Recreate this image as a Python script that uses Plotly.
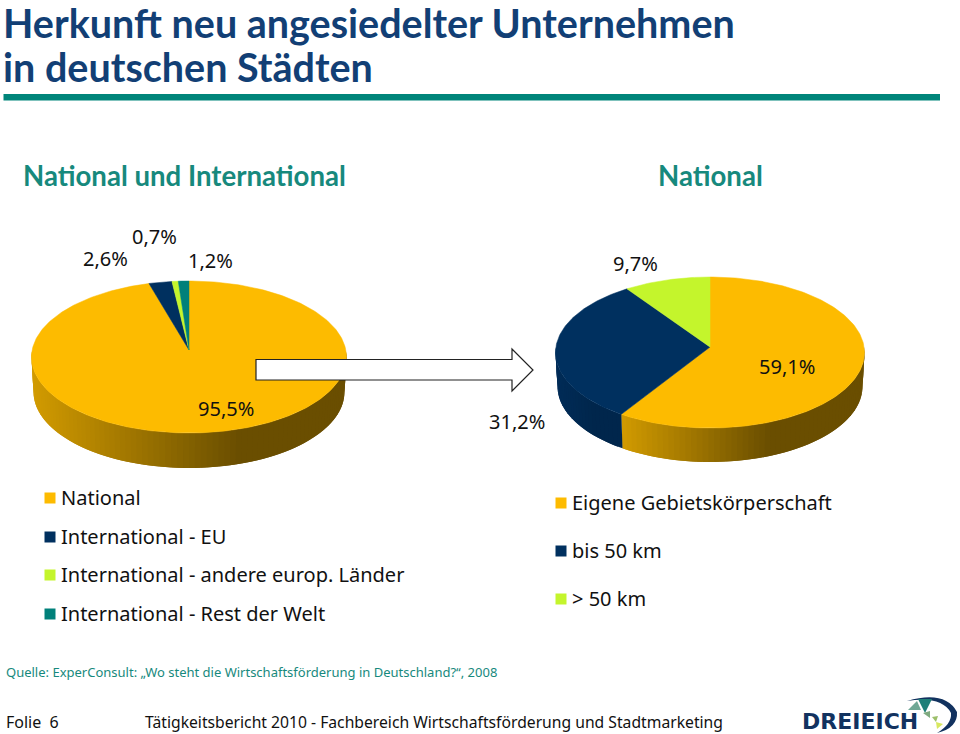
import math
import plotly.graph_objects as go

# ---- data ----
left_names = ["National", "International - EU", "International - andere europ. Länder", "International - Rest der Welt"]
left_values = [95.5, 2.6, 0.7, 1.2]
left_labels = ["95,5%", "2,6%", "0,7%", "1,2%"]
right_names = ["Eigene Gebietskörperschaft", "bis 50 km", "> 50 km"]
right_values = [59.1, 31.2, 9.7]
right_labels = ["59,1%", "31,2%", "9,7%"]

COL = {"gold": "#FDBB00", "navy": "#00305F", "lime": "#C4F52C", "teal": "#00807A"}
left_colors = [COL["gold"], COL["navy"], COL["lime"], COL["teal"]]
right_colors = [COL["gold"], COL["navy"], COL["lime"]]
FONT = "Noto Sans"
TEAL_TXT = "#17897D"
TITLE = "#123F75"

fig = go.Figure()


def poly(xs, ys, color, lw=0):
    fig.add_trace(go.Scatter(x=xs, y=ys, mode="lines", fill="toself", fillcolor=color,
                             line=dict(color=color, width=lw), hoverinfo="skip", showlegend=False))


def hexmix(c, f):
    r, g, b = int(c[1:3], 16), int(c[3:5], 16), int(c[5:7], 16)
    return "rgb(%d,%d,%d)" % (r * f, g * f, b * f)


def pie3d(values, colors, apex, cy, rx, ry, depth, brx, shade_span):
    ax, ay = apex
    def edge(theta):
        dx, dy = rx * math.sin(theta), -ry * math.cos(theta)
        k = ay - cy
        a = (dx / rx) ** 2 + (dy / ry) ** 2
        b = 2 * dy * k / ry ** 2
        c = (k / ry) ** 2 - 1
        s = (-b + math.sqrt(b * b - 4 * a * c)) / (2 * a)
        return ax + dx * s, ay + dy * s
    def low(theta):
        x, y = edge(theta)
        return ax + (x - ax) * brx / rx, y + depth

    total = sum(values)
    cum = 0.0
    spans = []
    for v in values:
        spans.append((cum / total * 2 * math.pi, (cum + v) / total * 2 * math.pi))
        cum += v
    # side wall (front half only); strips overlap the next one and run right to left
    for (a0, a1), col in zip(spans, colors):
        lo, hi = max(a0, math.pi / 2), min(a1, 3 * math.pi / 2)
        if hi <= lo:
            continue
        n = max(4, int((hi - lo) / math.radians(2)))
        xl, xr = low(hi)[0], low(lo)[0]
        for i in range(n):
            t0 = lo + (hi - lo) * i / n
            t1 = lo + (hi - lo) * (i + 1) / n
            tm = (t0 + t1) / 2
            frac = min(1.0, (low(tm)[0] - xl) / ((xr - xl) * shade_span))
            f = 0.83 - (0.83 - 0.42) * frac if col == COL["gold"] else 0.92 - 0.12 * frac
            arc = [t0 + (min(hi, t1 + (t1 - t0)) - t0) * j / 3 for j in range(4)]
            tops = [edge(t) for t in arc]
            bots = [low(t) for t in reversed(arc)]
            pts = tops + bots + tops[:1]
            poly([p[0] for p in pts], [p[1] for p in pts], hexmix(col, f))
    # top face
    for (a0, a1), col in zip(spans, colors):
        n = max(3, int((a1 - a0) / math.radians(1)))
        pts = [edge(a0 + (a1 - a0) * i / n) for i in range(n + 1)]
        poly([ax] + [p[0] for p in pts] + [ax], [ay] + [p[1] for p in pts] + [ay], col, 0.5)


pie3d(left_values, left_colors, (189, 350), 357, 157.5, 76, 35, 155.5, 0.66)
pie3d(right_values, right_colors, (710, 347), 352.5, 154.5, 75.5, 34, 152.5, 0.61)

ann = []


def txt(x, y, s, size, color="#000000", anchor="left", weight=400, family=FONT):
    ann.append(dict(x=x, y=y, xref="x", yref="y", text=s, showarrow=False, xanchor=anchor, yanchor="middle",
                    borderpad=0, align="left",
                    font=dict(family=family, size=size, color=color, weight=weight)))


# value labels
for s, x, y in zip(left_labels, [226, 105, 154, 210], [408, 258, 236, 260]):
    txt(x, y, s, 20, "#111111", "center")
for s, x, y in zip(right_labels, [787, 517, 635], [366, 421, 263]):
    txt(x, y, s, 20, "#111111", "center")

# legends
for name, col, y in zip(left_names, left_colors, [498, 537, 575, 614]):
    fig.add_trace(go.Scatter(x=[50], y=[y], mode="markers", hoverinfo="skip", showlegend=False,
                             marker=dict(symbol="square", size=11, color=col)))
    txt(60, y - 0.5, name, 20, "#111111")
for name, col, y in zip(right_names, right_colors, [503, 551, 599]):
    fig.add_trace(go.Scatter(x=[561], y=[y], mode="markers", hoverinfo="skip", showlegend=False,
                             marker=dict(symbol="square", size=11, color=col)))
    txt(571, y - 0.5, name, 20, "#111111")

# texts
txt(2, 22, "Herkunft neu angesiedelter Unternehmen", 39.5, TITLE, weight=700, family="Lato")
txt(2, 66, "in deutschen Städten", 39.5, TITLE, weight=700, family="Lato")
txt(22, 175, "National und International", 27.6, TEAL_TXT, weight=700, family="Lato")
txt(657, 175, "National", 27.6, TEAL_TXT, weight=700, family="Lato")
txt(5, 672, "Quelle: ExperConsult: „Wo steht die Wirtschaftsförderung in Deutschland?“, 2008", 13, TEAL_TXT)
txt(5, 722, "Folie  6", 16, "#111111")
txt(144, 722, "Tätigkeitsbericht 2010 - Fachbereich Wirtschaftsförderung und Stadtmarketing", 15.7, "#111111")
txt(801, 721, "DREIEICH", 22, "#12325F", weight=700, family="DejaVu Sans")

shapes = [
    dict(type="rect", x0=3.5, x1=940, y0=94, y1=100.5, fillcolor="#00857A", line=dict(width=0), layer="above"),
    dict(type="path", path="M256,359.5 L512,359.5 L512,349 L533,370 L512,391 L512,380 L256,380 Z",
         fillcolor="#FFFFFF", line=dict(color="#222222", width=1.2), layer="above"),
    dict(type="path", path="M907,701 Q945,690 957,712 Q958,728 937,733 Q952,724 951,713 Q942,696 907,701 Z",
         fillcolor="#12325F", line=dict(width=0), layer="above"),
    dict(type="path", path="M918,699 L932,699 L925,713 Z", fillcolor="#1F7F78", line=dict(width=0), layer="above"),
    dict(type="path", path="M908,710 L917,701 L921,710 Z", fillcolor="#6FA896", line=dict(width=0), layer="above"),
    dict(type="path", path="M923,713 L930,711 L930,718 Z", fillcolor="#7FAA80", line=dict(width=0), layer="above"),
    dict(type="path", path="M932,717 L938,716 L936,722 Z", fillcolor="#9CBF6A", line=dict(width=0), layer="above"),
    dict(type="path", path="M936,722 L943,724 L937,729 Z", fillcolor="#D8E860", line=dict(width=0), layer="above"),
]

fig.update_layout(
    width=960, height=734, margin=dict(l=0, r=0, t=0, b=0),
    paper_bgcolor="#FFFFFF", plot_bgcolor="#FFFFFF", showlegend=False,
    xaxis=dict(range=[0, 960], visible=False, fixedrange=True),
    yaxis=dict(range=[734, 0], visible=False, fixedrange=True),
    annotations=ann, shapes=shapes,
)
fig.write_html("out.html", config={"displayModeBar": False},
               post_script="document.body.style.margin='0';document.body.style.overflow='hidden';")
